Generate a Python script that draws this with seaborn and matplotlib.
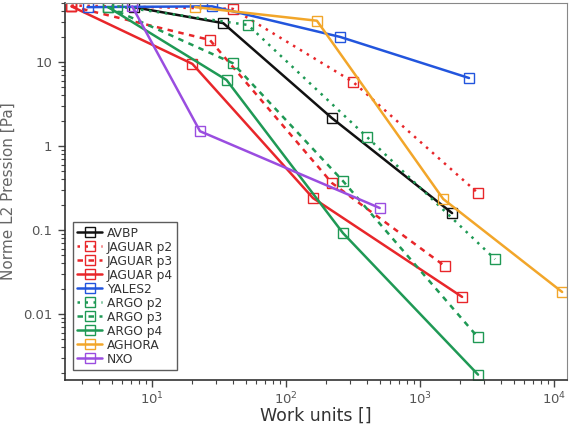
import matplotlib
matplotlib.use("Agg")
import matplotlib.pyplot as plt
import matplotlib.ticker as mticker
import seaborn as sns
import pandas as pd

sns.set_style("ticks")
plt.rcParams['font.family'] = ['DejaVu Sans']

# ---- data (work units, L2 norm of pressure [Pa]) ----
avbp_x = [7.3, 34, 220, 1735]
avbp_y = [45, 29, 2.15, 0.159]
jag_p2_x = [2.5, 40, 316, 2700]
jag_p2_y = [47, 43, 5.8, 0.276]
jag_p3_x = [2.5, 27, 220, 1540]
jag_p3_y = [46, 18.3, 0.363, 0.037]
jag_p4_x = [2.5, 20, 159, 2060]
jag_p4_y = [46, 9.5, 0.24, 0.016]
yales_x = [3.3, 28, 253, 2320]
yales_y = [45, 46, 19.9, 6.45]
argo_p2_x = [5.5, 52, 402, 3630]
argo_p2_y = [46, 27.6, 1.28, 0.045]
argo_p3_x = [4.7, 40, 266, 2700]
argo_p3_y = [45, 9.7, 0.383, 0.0053]
argo_p4_x = [4.7, 36, 266, 2710]
argo_p4_y = [45, 6.1, 0.092, 0.0019]
aghora_x = [21, 170, 1490, 11500]
aghora_y = [45, 31, 0.234, 0.0183]
nxo_x = [7.1, 22.8, 500]
nxo_y = [46, 1.5, 0.183]

series = [
    ("AVBP", avbp_x, avbp_y, "#111111", "-"),
    ("JAGUAR p2", jag_p2_x, jag_p2_y, "#e8262a", (0, (1, 2.2))),
    ("JAGUAR p3", jag_p3_x, jag_p3_y, "#e8262a", (0, (2.2, 2.2))),
    ("JAGUAR p4", jag_p4_x, jag_p4_y, "#e8262a", "-"),
    ("YALES2", yales_x, yales_y, "#2255dd", "-"),
    ("ARGO p2", argo_p2_x, argo_p2_y, "#1f9955", (0, (1, 2.2))),
    ("ARGO p3", argo_p3_x, argo_p3_y, "#1f9955", (0, (2.2, 2.2))),
    ("ARGO p4", argo_p4_x, argo_p4_y, "#1f9955", "-"),
    ("AGHORA", aghora_x, aghora_y, "#f2a62a", "-"),
    ("NXO", nxo_x, nxo_y, "#9a4de0", "-"),
]

fig = plt.figure(figsize=(5.72, 4.25), dpi=100)
ax = fig.add_axes([65 / 572, 1 - 380 / 425, 502 / 572, 377 / 425])

for name, xs, ys, col, ls in series:
    df = pd.DataFrame({"x": xs, "y": ys})
    sns.lineplot(data=df, x="x", y="y", ax=ax, sort=False, estimator=None,
                 color=col, linewidth=1.8, linestyle=ls, marker="s",
                 markersize=7, markerfacecolor="none", markeredgecolor=col,
                 markeredgewidth=1.0, label=name)

ax.set_xscale("log")
ax.set_yscale("log")
ax.set_xlim(2.24, 12500)
ax.set_ylim(0.00164, 50.4)

ax.xaxis.set_major_locator(mticker.LogLocator(base=10, numticks=10))
ax.xaxis.set_minor_locator(mticker.LogLocator(base=10, subs=range(2, 10), numticks=20))
ax.xaxis.set_major_formatter(mticker.LogFormatterMathtext())
ax.yaxis.set_major_locator(mticker.FixedLocator([0.01, 0.1, 1, 10]))
ax.yaxis.set_major_formatter(mticker.FixedFormatter(["0.01", "0.1", "1", "10"]))
ax.yaxis.set_minor_locator(mticker.LogLocator(base=10, subs=range(2, 10), numticks=20))

ax.tick_params(which="major", direction="out", length=5, width=1, colors="#444444",
               labelsize=9.5, labelcolor="#555555")
ax.tick_params(which="minor", direction="out", length=3, width=0.8, colors="#444444")
ax.tick_params(axis="y", pad=4)
ax.tick_params(axis="x", pad=3)
for side in ["left", "bottom"]:
    ax.spines[side].set_color("#333333")
    ax.spines[side].set_linewidth(1.2)
for side in ["top", "right"]:
    ax.spines[side].set_color("#888888")
    ax.spines[side].set_linewidth(0.8)

ax.set_xlabel("Work units []", fontsize=12.5, color="#333333", labelpad=-1)
ax.set_ylabel("Norme L2 Pression [Pa]", fontsize=11, color="#666666", labelpad=5)

leg = ax.legend(loc="lower left", bbox_to_anchor=(0.016, 0.027), fontsize=8.8,
                frameon=True, fancybox=False, edgecolor="#333333",
                handlelength=2.0, handletextpad=0.4, labelspacing=0.08,
                borderpad=0.35, borderaxespad=0)
leg.get_frame().set_linewidth(1.0)
for t in leg.get_texts():
    t.set_color("#333333")

fig.savefig("out.png", dpi=100)
